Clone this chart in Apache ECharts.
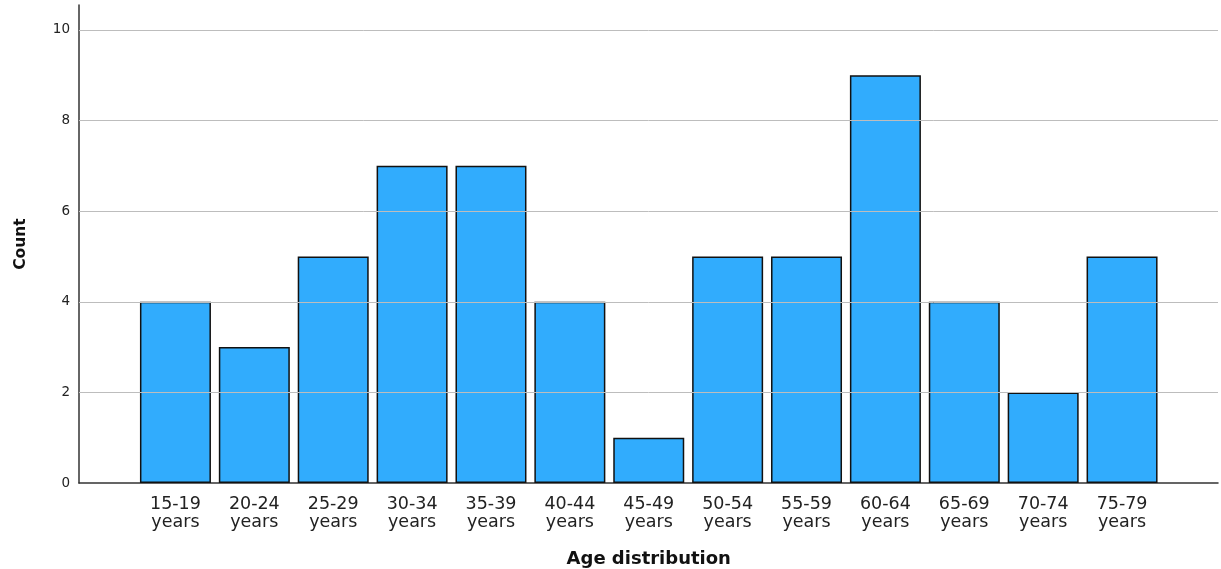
<!DOCTYPE html>
<html><head><meta charset="utf-8">
<script src="https://cdn.jsdelivr.net/npm/echarts@6/dist/echarts.min.js"></script>
<style>html,body{margin:0;padding:0;background:#fff}#c{width:1221px;height:569px}</style>
</head><body><div id="c"></div>
<script>
const categories = ['15-19 years','20-24 years','25-29 years','30-34 years','35-39 years','40-44 years','45-49 years','50-54 years','55-59 years','60-64 years','65-69 years','70-74 years','75-79 years'];
const counts = [4,3,5,7,7,4,1,5,5,9,4,2,5];
const yTicks = [0,2,4,6,8,10];
const yMax = 10.55;

const FONT = 'DejaVu Sans';
const chart = echarts.init(document.getElementById('c'), null, {renderer:'canvas'});
chart.setOption({
  animation:false,
  grid:[
    {left:79, right:3, top:5, bottom:86, containLabel:false, outerBoundsMode:'none'},
    {left:136, right:59.5, top:5, bottom:86, containLabel:false, outerBoundsMode:'none'}
  ],
  xAxis:[
    {
      gridIndex:0, type:'value', min:0, max:1,
      axisLine:{show:true, onZero:false, lineStyle:{color:'#333', width:1.5}},
      axisTick:{show:false}, axisLabel:{show:false}, splitLine:{show:false}
    },
    {
      gridIndex:1, type:'category', data:categories,
      name:'Age distribution', nameLocation:'middle', nameGap:67,
      nameTextStyle:{fontFamily:FONT, fontWeight:'bold', fontSize:18, color:'#111'},
      axisLine:{show:false}, axisTick:{show:false}, splitLine:{show:false},
      axisLabel:{
        interval:0,
        formatter: v => v.replace(' ','\n'),
        fontFamily:FONT, fontSize:17.5, color:'#222', lineHeight:18, margin:12
      }
    }
  ],
  yAxis:[
    {
      gridIndex:0, type:'value', min:0, max:yMax,
      name:'Count', nameLocation:'middle', nameGap:50,
      nameTextStyle:{fontFamily:FONT, fontWeight:'bold', fontSize:15.5, color:'#111'},
      axisLine:{show:true, onZero:false, lineStyle:{color:'#333', width:1.5}},
      axisTick:{show:false},
      axisLabel:{customValues: yTicks, fontFamily:FONT, fontSize:13.5, color:'#222', margin:9},
      splitLine:{show:false}
    },
    {
      gridIndex:1, type:'value', min:0, max:yMax, show:false
    }
  ],
  series:[
    {
      type:'line', xAxisIndex:0, yAxisIndex:0, data:[], silent:true,
      markLine:{
        silent:true, symbol:'none', label:{show:false},
        lineStyle:{color:'#bdbdbd', width:1, type:'solid'},
        data: yTicks.filter(t=>t>0).map(t=>({yAxis:t}))
      }
    },
    {
      type:'bar', xAxisIndex:1, yAxisIndex:1,
      data: counts,
      barWidth:71,
      itemStyle:{color:'#31acfd', borderColor:'#111', borderWidth:1.5},
      z:3
    }
  ]
});
</script></body></html>
